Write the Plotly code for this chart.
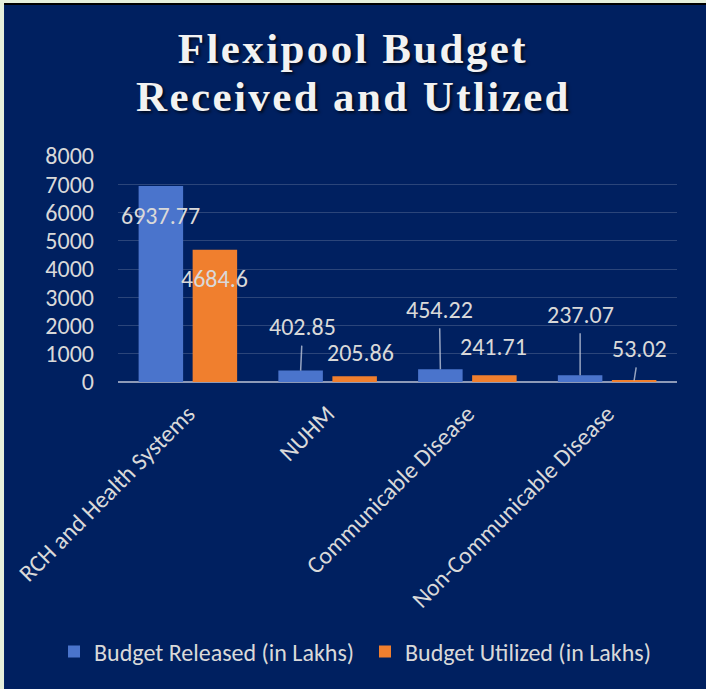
import plotly.graph_objects as go

# ---- data ----
categories = ["RCH and Health Systems", "NUHM", "Communicable Disease", "Non-Communicable Disease"]
released = [6937.77, 402.85, 454.22, 237.07]
utilized = [4684.6, 205.86, 241.71, 53.02]
series_names = ["Budget Released (in Lakhs)", "Budget Utilized (in Lakhs)"]
title_lines = ["Flexipool Budget", "Received and Utlized"]
y_ticks = [0, 1000, 2000, 3000, 4000, 5000, 6000, 7000, 8000]

# ---- style ----
NAVY = "#002060"
BLUE = "#4a74cc"
ORANGE = "#f07f2e"
TXT = "#d9d9d9"
FONT = "Calibri, Carlito, Lato, sans-serif"
FS = 24
BAR_SHIFT = 27  # pixel offset of each bar from its category centre
# label offsets (dx, dy in px relative to bar top centre, arrow flag)
rel_label_style = [(0, 29, False), (2, -44, True), (-1, -60, True), (0, -61, True)]
utl_label_style = [(0, 29, False), (6, -24, False), (-1, -29, False), (5, -32, True)]

fig = go.Figure()
fig.add_bar(name=series_names[0], x=categories, y=released, legend="legend",
            marker=dict(color=BLUE, line=dict(width=0)))
fig.add_bar(name=series_names[1], x=categories, y=utilized, legend="legend2",
            marker=dict(color=ORANGE, line=dict(width=0)))

annotations = []
for vals, styles, shift in ((released, rel_label_style, -BAR_SHIFT), (utilized, utl_label_style, BAR_SHIFT)):
    for cat, v, (dx, dy, arrow) in zip(categories, vals, styles):
        txt = f"{v:g}"
        if arrow:
            annotations.append(dict(
                x=cat, y=v, xref="x", yref="y", text=txt, xshift=shift,
                showarrow=True, ax=dx, ay=dy, arrowhead=0, arrowwidth=1.5,
                arrowcolor="rgba(200,208,225,0.75)", standoff=0, startstandoff=3,
                font=dict(family=FONT, size=FS, color=TXT)))
        else:
            annotations.append(dict(
                x=cat, y=v, xref="x", yref="y", text=txt,
                xshift=shift + dx, yshift=-dy, showarrow=False,
                xanchor="center", yanchor="middle",
                font=dict(family=FONT, size=FS, color=TXT)))

title_font = dict(family="Liberation Serif, Times New Roman, serif", size=43, color="#f2f2f2",
                  weight=700, shadow="2px 2px 3px rgba(0,0,0,0.7)")
title_idx = [len(annotations), len(annotations) + 1]
annotations.append(dict(x=0.4204, y=1.475, xref="paper", yref="paper", text=title_lines[0],
                        showarrow=False, xanchor="center", yanchor="middle", font=title_font))
annotations.append(dict(x=0.4204, y=1.262, xref="paper", yref="paper", text=title_lines[1],
                        showarrow=False, xanchor="center", yanchor="middle", font=title_font))

shapes = [
    # light frame strip on top and left, with thin dark line
    dict(type="rect", xref="paper", yref="paper", x0=-0.25, x1=1.1, y0=1.677, y1=1.75,
         fillcolor="#e6f0dc", line=dict(width=0), layer="above"),
    dict(type="rect", xref="paper", yref="paper", x0=-0.2039, x1=1.1, y0=1.668, y1=1.677,
         fillcolor="#000000", line=dict(width=0), layer="above"),
    dict(type="rect", xref="paper", yref="paper", x0=-0.25, x1=-0.2039, y0=-1.5, y1=1.75,
         fillcolor="#e6f0dc", line=dict(width=0), layer="above"),
]

legend_common = dict(orientation="h", xref="container", yref="container", xanchor="left",
                     y=0.054, yanchor="middle", itemwidth=30,
                     font=dict(family=FONT, size=FS, color=TXT), bgcolor="rgba(0,0,0,0)")

fig.update_layout(
    width=706, height=689,
    margin=dict(l=118, r=29, t=156, b=307, autoexpand=False),
    paper_bgcolor=NAVY, plot_bgcolor=NAVY,
    barmode="group", bargap=0.227, bargroupgap=0.176,
    showlegend=True,
    legend=dict(legend_common, x=0.0765),
    legend2=dict(legend_common, x=0.517),
    annotations=annotations,
    shapes=shapes,
    font=dict(family=FONT, color=TXT),
)
fig.update_xaxes(type="category", tickangle=-45, tickfont=dict(family=FONT, size=FS, color=TXT),
                 showgrid=False, showline=False, ticks="", zeroline=False, ticklabelstandoff=12)
fig.update_yaxes(range=[0, 8000], tickvals=y_ticks, tickfont=dict(family=FONT, size=FS, color=TXT),
                 showgrid=True, gridcolor="rgba(255,255,255,0.17)", gridwidth=1,
                 zeroline=True, zerolinecolor="#8d9ab8", zerolinewidth=2,
                 showline=False, ticks="", ticklabelstandoff=23)

sel = ", ".join(f'g.annotation[data-index="{i}"] text' for i in title_idx)
post = ("document.body.style.margin='0';document.body.style.overflow='hidden';"
        "document.documentElement.style.overflow='hidden';"
        "var s=document.createElement('style');"
        "s.textContent='" + sel.replace("'", "\\'") + " {letter-spacing:2.4px}';"
        "document.head.appendChild(s);")

fig.write_html("out.html", post_script=post, config={"displayModeBar": False})
